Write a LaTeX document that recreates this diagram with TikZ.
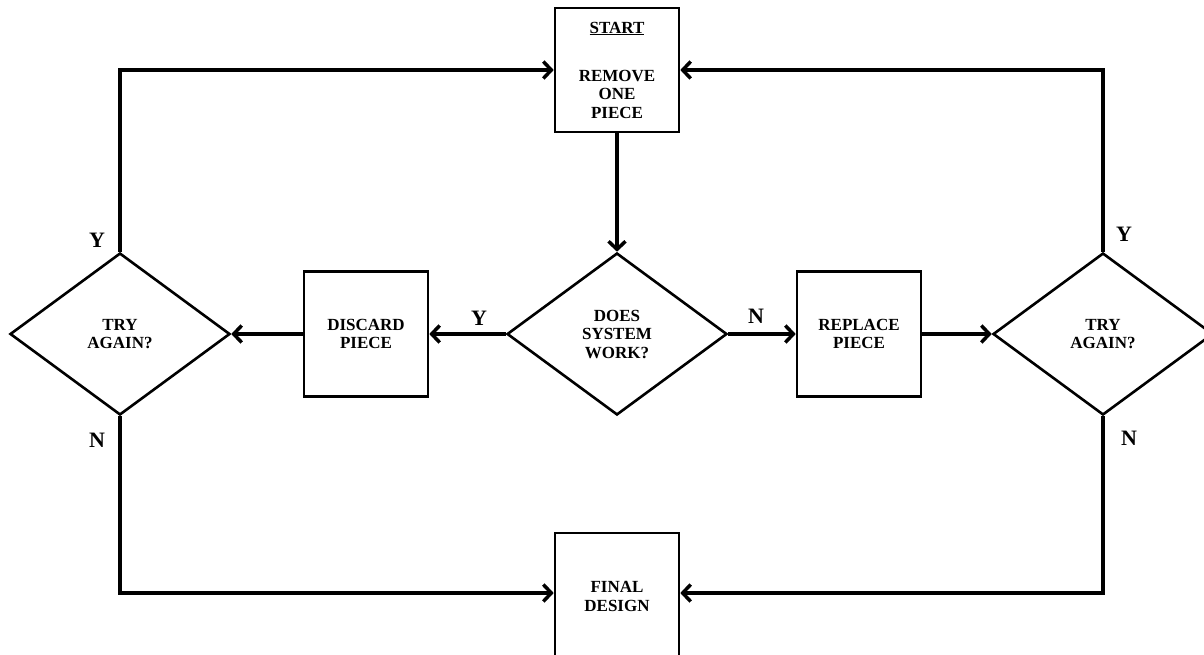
\documentclass[tikz,border=0pt]{standalone}
\usepackage{fontspec}
\setmainfont{Liberation Serif}
\usetikzlibrary{shapes.geometric,arrows.meta}
\begin{document}
\begin{tikzpicture}[x=1pt,y=-1pt,
  txt/.style={font=\bfseries\fontsize{17}{18.5}\selectfont, align=center},
  box/.style={txt, draw, line width=2.6pt, minimum width=124pt, minimum height=124pt, inner sep=0pt},
  dia/.style={txt, draw, diamond, line width=2.6pt, minimum width=220pt, minimum height=162pt, inner sep=0pt},
  conn/.style={line width=3.5pt, -{Straight Barb[length=8pt,width=17pt]}},
  lbl/.style={font=\bfseries\fontsize{22}{24}\selectfont}]
\useasboundingbox (0,0) rectangle (1204,655);
\clip (0,0) rectangle (1204,655);
% nodes
\node[box] (start) at (617,70) {\underline{START}\\[29.5pt]REMOVE\\ONE\\PIECE};
\node[dia] (cd) at (617,334) {DOES\\SYSTEM\\WORK?};
\node[box, minimum height=125pt] (discard) at (366,334) {DISCARD\\PIECE};
\node[box, minimum height=125pt] (replace) at (859,334) {REPLACE\\PIECE};
\node[dia] (ld) at (120,334) {TRY\\AGAIN?};
\node[dia] (rd) at (1103,334) {TRY\\AGAIN?};
\node[box, minimum height=127pt] (final) at (617,596.5) {FINAL\\DESIGN};
% connectors
\draw[conn] (start.south) -- (cd.north);
\draw[conn] (cd.west) -- (discard.east);
\draw[conn] (discard.west) -- (ld.east);
\draw[conn] (cd.east) -- (replace.west);
\draw[conn] (replace.east) -- (rd.west);
\draw[conn] (ld.north) |- (start.west);
\draw[conn] (rd.north) |- (start.east);
\coordinate (lb) at (120,593);
\coordinate (rb) at (1103,593);
\draw[conn] (ld.south) -- (lb) -- (final.west |- lb);
\draw[conn] (rd.south) -- (rb) -- (final.east |- rb);
% labels
\node[lbl] (ly) at (97,240) {Y};
\node[lbl] (ln) at (97,440) {N};
\node[lbl] (cy) at (479,318) {Y};
\node[lbl] (cn) at (756,316) {N};
\node[lbl] (ry) at (1124,234) {Y};
\node[lbl] (rn) at (1129,438) {N};
\end{tikzpicture}
\end{document}
